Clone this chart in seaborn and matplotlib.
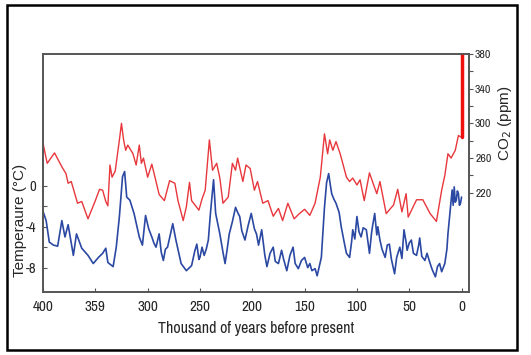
import numpy as np
import pandas as pd
import matplotlib.pyplot as plt
from matplotlib import font_manager
from matplotlib.patches import Rectangle
import seaborn as sns

# Vostok ice core: temperature and CO2
temp_kyr = [400, 397, 394, 390, 386, 382, 379, 376, 371, 368,
            363, 357, 352, 347, 343, 340, 338, 333, 330, 327,
            324, 322, 320, 317, 313, 308, 305, 302, 299, 296,
            294, 292, 289, 287, 285, 283, 281, 276, 273, 268,
            263, 258, 255, 253, 251, 250, 248, 246, 244, 242,
            240, 237, 235, 231, 228, 226, 224, 222, 219, 216,
            214, 212, 210, 207, 204, 201, 198, 196, 194, 191,
            188, 186, 183, 180, 178, 175, 172, 170, 167, 164,
            161, 159, 156, 153, 150, 147, 145, 143, 140, 138,
            134, 131, 129, 127, 125, 124, 122, 120, 117, 115,
            112, 110, 107, 105, 104, 102, 100, 98, 96, 94,
            91, 89, 88, 86, 85, 83, 81, 80, 78, 76,
            73, 71, 69, 67, 64, 62, 59, 57, 55, 53,
            52, 50, 48, 46, 43, 41, 40, 38, 35, 33,
            30, 28, 25, 23, 21, 19, 16, 14, 13, 11,
            10, 9, 8, 7, 6, 5, 4, 3, 2, 1,
            0]
temp_c = [-2.5, -3.4, -5.5, -5.8, -5.9, -3.4, -5.0, -3.8, -6.8, -4.7,
          -6.1, -6.8, -7.6, -7.0, -6.6, -6.1, -7.5, -7.9, -6.0, -3.0,
          0.9, 1.4, -1.1, -1.4, -2.7, -5.0, -5.8, -2.9, -4.2, -5.0,
          -5.6, -6.0, -4.7, -6.5, -7.3, -6.2, -6.0, -3.7, -5.3, -7.6,
          -8.3, -7.8, -6.4, -5.7, -7.2, -7.0, -6.0, -6.8, -6.2, -5.3,
          -2.7, 0.6, -2.7, -4.7, -6.5, -7.6, -6.2, -4.7, -3.5, -2.1,
          -2.6, -3.0, -4.4, -5.3, -3.9, -2.7, -4.2, -4.7, -5.8, -4.3,
          -6.8, -7.9, -6.6, -6.0, -7.4, -7.6, -6.3, -7.2, -8.3, -6.8,
          -6.0, -7.6, -8.1, -7.3, -7.0, -8.0, -7.6, -8.3, -8.1, -8.8,
          -7.0, -2.1, 0.3, 1.2, -0.2, -0.8, -1.3, -1.7, -2.6, -4.0,
          -5.6, -6.6, -7.0, -5.4, -4.3, -5.2, -3.0, -4.5, -5.0, -4.1,
          -4.3, -5.8, -6.6, -4.6, -3.9, -2.7, -4.8, -4.0, -5.3, -6.2,
          -7.0, -5.8, -5.7, -7.2, -8.6, -7.0, -6.0, -7.1, -4.3, -5.5,
          -6.3, -5.6, -5.3, -6.6, -6.8, -5.8, -5.1, -6.9, -7.3, -6.6,
          -7.6, -8.2, -8.9, -7.9, -7.6, -8.4, -7.6, -6.2, -4.7, -2.5,
          -1.4, -0.4, -1.9, -0.1, -1.6, -1.4, -0.5, -0.75, -1.9, -1.7,
          -1.1]

co2_kyr = [400, 396, 389, 382, 378, 376, 373, 367, 363, 357,
           350, 346, 343, 340, 338, 336, 334, 331, 327, 325,
           323, 321, 319, 314, 311, 308, 306, 304, 300, 296,
           292, 289, 284, 279, 274, 271, 266, 263, 260, 258,
           251, 248, 245, 241, 238, 234, 231, 228, 223, 219,
           216, 214, 209, 206, 202, 198, 195, 190, 185, 180,
           175, 171, 166, 160, 155, 150, 145, 140, 135, 131,
           128, 126, 123, 120, 116, 110, 107, 104, 100, 97,
           93, 88, 84, 81, 78, 72, 65, 61, 57, 53,
           51, 43, 37, 30, 24, 19, 16, 13, 10, 6,
           3, 0]
co2_ppm = [277, 254, 266, 250, 242, 231, 233, 208, 210, 190,
           211, 224, 223, 210, 205, 252, 238, 245, 281, 300,
           281, 269, 275, 265, 252, 275, 254, 260, 238, 253,
           233, 218, 211, 234, 231, 211, 188, 204, 232, 211,
           200, 213, 223, 281, 246, 254, 237, 208, 215, 254,
           246, 260, 233, 252, 248, 223, 233, 208, 211, 193,
           202, 188, 208, 190, 196, 201, 194, 208, 238, 288,
           265, 281, 269, 279, 265, 238, 233, 237, 229, 235,
           211, 243, 229, 219, 233, 196, 206, 224, 198, 219,
           192, 212, 212, 196, 187, 223, 240, 265, 260, 269,
           286, 284]

# modern CO2 jump
spike_kyr = [0, 0]
spike_ppm = [284, 380]

x_ticks = [400, 350, 300, 250, 200, 150, 100, 50, 0]
x_labels = ["400", "359", "300", "250", "200", "150", "100", "50", "0"]

# narrow font for the tick labels / x title if one is there
have = {f.name for f in font_manager.fontManager.ttflist}
narrow = [n for n in ["Liberation Sans Narrow", "Arial Narrow", "Archivo Narrow", "PT Sans Narrow",
                      "Roboto Condensed", "Open Sans Condensed", "Pragati Narrow", "Encode Sans Condensed",
                      "Asap Condensed", "IBM Plex Sans Condensed", "Fira Sans Condensed"] if n in have]
narrow_fam = narrow[:1] + ["Liberation Sans", "DejaVu Sans"]

sns.set_style("white")
plt.rcParams["font.family"] = narrow_fam

fig = plt.figure(figsize=(5.31, 3.55), dpi=100)
ax = fig.add_axes([0.081, 0.177, 0.802, 0.671])
ax2 = ax.twinx()

sns.lineplot(x=temp_kyr, y=temp_c, ax=ax, color="#2b48a3", lw=1.2, estimator=None, sort=False)
sns.lineplot(x=co2_kyr, y=co2_ppm, ax=ax2, color="#e8373c", lw=1.0, estimator=None, sort=False)
sns.lineplot(x=spike_kyr, y=spike_ppm, ax=ax2, color="#f01010", lw=2.5, estimator=None, sort=False)

ax.set_xlim(400, -7)
ax.set_ylim(-10.4, 12.9)
ax2.set_ylim(105.5, 380)

ax.set_xticks(x_ticks)
ax.set_xticklabels(x_labels, fontsize=11)
ax.set_yticks([0, -4, -8])
ax.set_yticklabels(["0", "-4", "-8"], fontsize=10.5)
ax.set_yticks([-2, -6], minor=True)
ax.tick_params(axis="both", which="both", direction="in", length=3, width=0.8,
               color="#555555", left=True, bottom=True)
ax.tick_params(axis="x", pad=6)
ax.tick_params(axis="y", pad=5)

ax2.set_yticks([220, 260, 300, 340, 380])
ax2.set_yticklabels(["220", "260", "300", "340", "380"], fontsize=8.5)
ax2.set_yticks([240, 280, 320, 360], minor=True)
ax2.tick_params(axis="y", which="both", direction="out", length=3, width=0.8,
                color="#555555", right=True, pad=1.5)

ax.set_xlabel("Thousand of years before present", fontsize=11.5, labelpad=5)
ax.set_ylabel("Temperaure (°C)", fontsize=11, family=["Liberation Sans", "DejaVu Sans"])
ax.yaxis.set_label_coords(-0.038, 0.30)
ax2.set_ylabel("CO$_2$ (ppm)", fontsize=11, family=["Liberation Sans", "DejaVu Sans"])
ax2.yaxis.set_label_coords(1.064, 0.71)

for a in (ax, ax2):
    for s in a.spines.values():
        s.set_color("#555555")
        s.set_linewidth(1.2)

# outer frame around the whole picture
fig.patches.append(Rectangle((7 / 531, 5 / 355), 510 / 531, 345 / 355, transform=fig.transFigure,
                             fill=False, edgecolor="black", lw=1.8))

plt.savefig("out.png", dpi=100)
